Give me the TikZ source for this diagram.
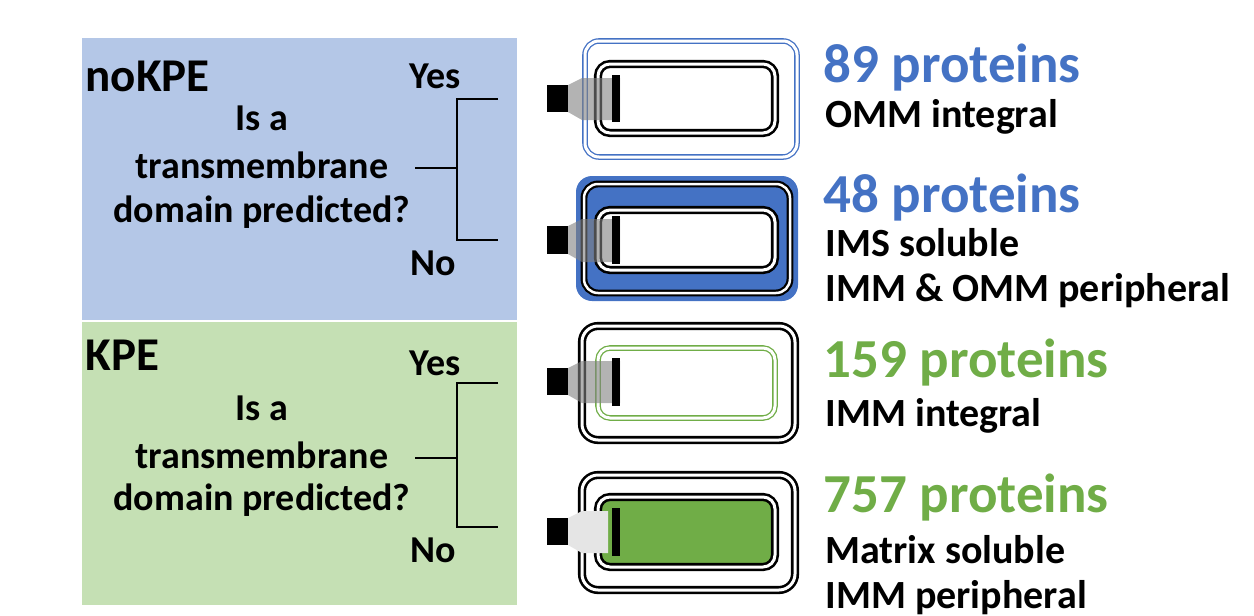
\documentclass[tikz,border=0pt]{standalone}
\usepackage{fontspec}
\setmainfont{Carlito}
\definecolor{pblue}{HTML}{B4C7E7}
\definecolor{pgreen}{HTML}{C5E0B4}
\definecolor{dblue}{HTML}{4472C4}
\definecolor{dgreen}{HTML}{70AD47}
\begin{document}
\begin{tikzpicture}[x=1pt,y=-1pt,
  q/.style={font=\fontsize{38}{38}\selectfont\bfseries,align=center},
  big/.style={font=\fontsize{47}{47}\selectfont\bfseries,anchor=west},
  cnt/.style={font=\fontsize{55}{55}\selectfont\bfseries,anchor=west},
  desc/.style={font=\fontsize{40}{40}\selectfont\bfseries,anchor=west},
  br/.style={line width=1.2pt},
  gr/.style={fill=gray,opacity=0.6},
  dbl/.style={line width=2.6pt,double=white,double distance=3pt,rounded corners=12pt},
  dblthin/.style={line width=1.3pt,double=white,double distance=3pt,rounded corners=14pt}]
\useasboundingbox (0,0) rectangle (1254,616);
\fill[pblue] (82,38) rectangle (517,320);
\fill[pgreen] (82,322) rectangle (517,605);
% noKPE
\node[big] (n1) at (82,76) {noKPE};
\node[q] (y1) at (435,76) {Yes};
\node[q] (qa1) at (262,118) {Is a};
\node[q] (qb1) at (262,165) {transmembrane};
\node[q] (qc1) at (262,212) {domain predicted?};
\node[q] (no1) at (433,263) {No};
\coordinate (m1) at (415,168); \coordinate (v1) at (457,168);
\coordinate (t1) at (498,99); \coordinate (b1) at (498,240);
\draw[br] (m1) -- (v1);
\draw[br] (t1) -| (v1) |- (b1);
% KPE
\node[big] (n2) at (82,355) {KPE};
\node[q] (y2) at (435,363) {Yes};
\node[q] (qa2) at (262,408) {Is a};
\node[q] (qb2) at (262,455) {transmembrane};
\node[q] (qc2) at (262,500) {domain predicted?};
\node[q] (no2) at (433,550) {No};
\coordinate (m2) at (415,458); \coordinate (v2) at (457,458);
\coordinate (t2) at (498,383); \coordinate (b2) at (498,527);
\draw[br] (m2) -- (v2);
\draw[br] (t2) -| (v2) |- (b2);
% icon 1
\draw[dblthin,draw=dblue] (585,41) rectangle (797,157);
\draw[dbl] (598,64) rectangle (775,133);
\fill[gr] (568,85) -- (582,78) -- (620,78) -- (620,120) -- (582,120) -- (568,112) -- cycle;
\fill (547,85) rectangle (568,112);
\fill (612,75) rectangle (620,122);
% icon 2
\fill[dblue,rounded corners=16pt] (576,176) rectangle (798,301);
\draw[line width=2.2pt,double=white,double distance=2.5pt,rounded corners=14pt] (584,184) rectangle (790,293);
\draw[dbl,fill=white] (598,210) rectangle (775,270);
\fill[gr] (568,226) -- (582,219) -- (620,219) -- (620,262) -- (582,262) -- (568,254) -- cycle;
\fill (547,226) rectangle (568,254);
\fill (612,216) rectangle (620,264);
% icon 3
\draw[dbl,rounded corners=16pt] (582,326) rectangle (795,440);
\draw[dblthin,draw=dgreen,rounded corners=12pt] (598,348) rectangle (775,418);
\fill[gr] (568,368) -- (582,361) -- (620,361) -- (620,403) -- (582,403) -- (568,395) -- cycle;
\fill (547,368) rectangle (568,395);
\fill (612,358) rectangle (620,406);
% icon 4
\draw[dbl,rounded corners=16pt] (582,475) rectangle (795,590);
\draw[dbl,fill=dgreen] (598,497) rectangle (775,567);
\fill[gray!20] (568,518) -- (582,511) -- (608,511) -- (608,553) -- (582,553) -- (568,545) -- cycle;
\fill (547,518) rectangle (568,545);
\fill (612,508) rectangle (620,556);
% right texts
\node[cnt,text=dblue] (c1) at (820,68) {89 proteins};
\node[desc] (d1) at (822,117) {OMM integral};
\node[cnt,text=dblue] (c2) at (820,198) {48 proteins};
\node[desc] (d2) at (822,243) {IMS soluble};
\node[desc] (d3) at (822,291) {IMM \& OMM peripheral};
\node[cnt,text=dgreen] (c3) at (820,363) {159 proteins};
\node[desc] (d4) at (822,416) {IMM integral};
\node[cnt,text=dgreen] (c4) at (820,498) {757 proteins};
\node[desc] (d5) at (822,550) {Matrix soluble};
\node[desc] (d6) at (822,598) {IMM peripheral};
\end{tikzpicture}
\end{document}
